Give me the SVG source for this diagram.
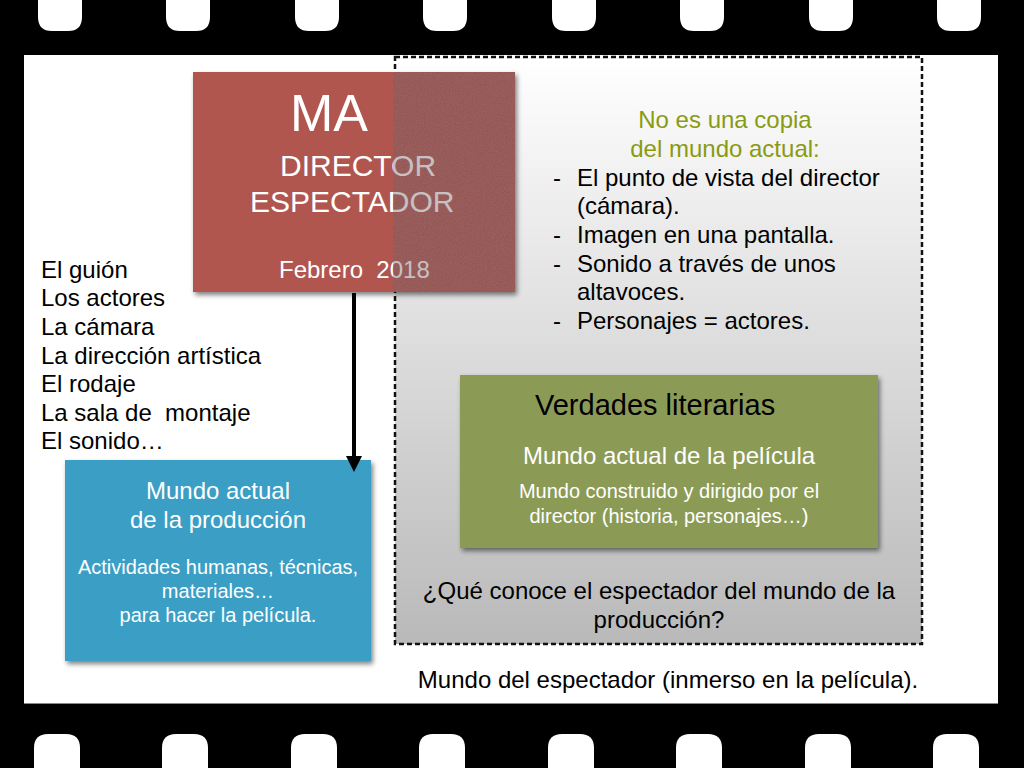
<svg xmlns="http://www.w3.org/2000/svg" width="1024" height="768" viewBox="0 0 1024 768">
<defs>
<style>
text{font-family:"Liberation Sans",Arial,sans-serif}
.hole{fill:#fff}
.w{fill:#fff}
.pre{white-space:pre}
</style>
<linearGradient id="gfill" x1="0" y1="0" x2="0" y2="1">
<stop offset="0" stop-color="#ffffff"/>
<stop offset="1" stop-color="#b9b9b9"/>
</linearGradient>
<filter id="sh" x="-10%" y="-10%" width="125%" height="125%">
<feGaussianBlur in="SourceAlpha" stdDeviation="2.5"/>
<feOffset dx="2" dy="3" result="b"/>
<feComponentTransfer><feFuncA type="linear" slope="0.5"/></feComponentTransfer>
<feMerge><feMergeNode/><feMergeNode in="SourceGraphic"/></feMerge>
</filter>
<filter id="noise" x="0" y="0" width="100%" height="100%">
<feTurbulence type="fractalNoise" baseFrequency="0.9" numOctaves="2" result="n"/>
<feColorMatrix type="matrix" values="0 0 0 0 0.6  0 0 0 0 0.45  0 0 0 0 0.45  0 0 0 0.35 0" in="n" result="c"/>
<feComposite in="c" in2="SourceGraphic" operator="in" result="t"/>
<feMerge><feMergeNode in="SourceGraphic"/><feMergeNode in="t"/></feMerge>
</filter>
</defs>

<!-- film strip -->
<rect x="0" y="0" width="1024" height="768" fill="#000"/>
<g id="holes-top">
<path class="hole" d="M38,0 H82 V17 Q82,31 68,31 H52 Q38,31 38,17 Z"/>
<path class="hole" d="M166,0 H210 V17 Q210,31 196,31 H180 Q166,31 166,17 Z"/>
<path class="hole" d="M295,0 H339 V17 Q339,31 325,31 H309 Q295,31 295,17 Z"/>
<path class="hole" d="M423,0 H467 V17 Q467,31 453,31 H437 Q423,31 423,17 Z"/>
<path class="hole" d="M552,0 H596 V17 Q596,31 582,31 H566 Q552,31 552,17 Z"/>
<path class="hole" d="M680,0 H724 V17 Q724,31 710,31 H694 Q680,31 680,17 Z"/>
<path class="hole" d="M809,0 H853 V17 Q853,31 839,31 H823 Q809,31 809,17 Z"/>
<path class="hole" d="M937,0 H981 V17 Q981,31 967,31 H951 Q937,31 937,17 Z"/>
</g>
<g id="holes-bottom">
<path class="hole" d="M34,768 H80 V748 Q80,734 66,734 H48 Q34,734 34,748 Z"/>
<path class="hole" d="M162,768 H208 V748 Q208,734 194,734 H176 Q162,734 162,748 Z"/>
<path class="hole" d="M291,768 H337 V748 Q337,734 323,734 H305 Q291,734 291,748 Z"/>
<path class="hole" d="M419,768 H465 V748 Q465,734 451,734 H433 Q419,734 419,748 Z"/>
<path class="hole" d="M548,768 H594 V748 Q594,734 580,734 H562 Q548,734 548,748 Z"/>
<path class="hole" d="M676,768 H722 V748 Q722,734 708,734 H690 Q676,734 676,748 Z"/>
<path class="hole" d="M805,768 H851 V748 Q851,734 837,734 H819 Q805,734 805,748 Z"/>
<path class="hole" d="M933,768 H979 V748 Q979,734 965,734 H947 Q933,734 933,748 Z"/>
</g>
<rect x="24" y="55" width="974" height="649" fill="#fff"/>
<line x1="24" y1="703.5" x2="998" y2="703.5" stroke="#888" stroke-width="1"/>

<!-- spectator world dashed region -->
<g id="spectator-world">
<rect x="395" y="57" width="527" height="587" fill="url(#gfill)" stroke="#111" stroke-width="2.5" stroke-dasharray="5,3"/>
<text x="725" y="128" font-size="24" fill="#8a9a12" text-anchor="middle">No es una copia</text>
<text x="725" y="157" font-size="24" fill="#8a9a12" text-anchor="middle">del mundo actual:</text>
<g font-size="24" fill="#000">
<text x="553" y="186">-</text><text x="577" y="186">El punto de vista del director</text>
<text x="577" y="214">(cámara).</text>
<text x="553" y="243">-</text><text x="577" y="243">Imagen en una pantalla.</text>
<text x="553" y="272">-</text><text x="577" y="272">Sonido a través de unos</text>
<text x="577" y="300">altavoces.</text>
<text x="553" y="329">-</text><text x="577" y="329">Personajes = actores.</text>
</g>
<text x="659" y="599" font-size="24" text-anchor="middle" fill="#000">¿Qué conoce el espectador del mundo de la</text>
<text x="659" y="628" font-size="24" text-anchor="middle" fill="#000">producción?</text>
</g>

<text x="668" y="688" font-size="24" text-anchor="middle" fill="#000">Mundo del espectador (inmerso en la película).</text>

<!-- title node -->
<g id="title">
<rect x="193" y="72" width="322" height="220" fill="#b1574f" filter="url(#sh)"/>
<text x="290" y="131" font-size="52" class="w">MA</text>
<text x="280" y="176" font-size="30" class="w">DIRECTOR</text>
<text x="250" y="212" font-size="30" class="w">ESPECTADOR</text>
<text x="279" y="278" font-size="24" class="w pre">Febrero  2018</text>
<rect x="393" y="72" width="122" height="220" fill="#4f4650" opacity="0.4" filter="url(#noise)"/>
</g>

<!-- list -->
<g id="list" font-size="24" fill="#000">
<text x="41" y="278">El guión</text>
<text x="41" y="306">Los actores</text>
<text x="41" y="335">La cámara</text>
<text x="41" y="364">La dirección artística</text>
<text x="41" y="392">El rodaje</text>
<text x="41" y="421" class="pre">La sala de  montaje</text>
<text x="41" y="449">El sonido…</text>
</g>

<!-- production world -->
<g id="production">
<rect x="65" y="460" width="306" height="201" fill="#3b9ec4" filter="url(#sh)"/>
<text x="218" y="499" font-size="24" class="w" text-anchor="middle">Mundo actual</text>
<text x="218" y="528" font-size="24" class="w" text-anchor="middle">de la producción</text>
<text x="218" y="574" font-size="20" class="w" text-anchor="middle">Actividades humanas, técnicas,</text>
<text x="218" y="598" font-size="20" class="w" text-anchor="middle">materiales…</text>
<text x="218" y="622" font-size="20" class="w" text-anchor="middle">para hacer la película.</text>
</g>

<!-- film world -->
<g id="film-world">
<rect x="460" y="375" width="418" height="173" fill="#8b9b56" filter="url(#sh)"/>
<text x="535" y="415" font-size="29" fill="#000">Verdades literarias</text>
<text x="669" y="464" font-size="24" class="w" text-anchor="middle">Mundo actual de la película</text>
<text x="669" y="498" font-size="20" class="w" text-anchor="middle">Mundo construido y dirigido por el</text>
<text x="669" y="523" font-size="20" class="w" text-anchor="middle">director (historia, personajes…)</text>
</g>

<!-- connectors -->
<g id="connectors">
<line x1="354" y1="293" x2="354" y2="458" stroke="#000" stroke-width="4"/>
<path d="M346,456 L362,456 L354,472 Z" fill="#000"/>
</g>
</svg>
